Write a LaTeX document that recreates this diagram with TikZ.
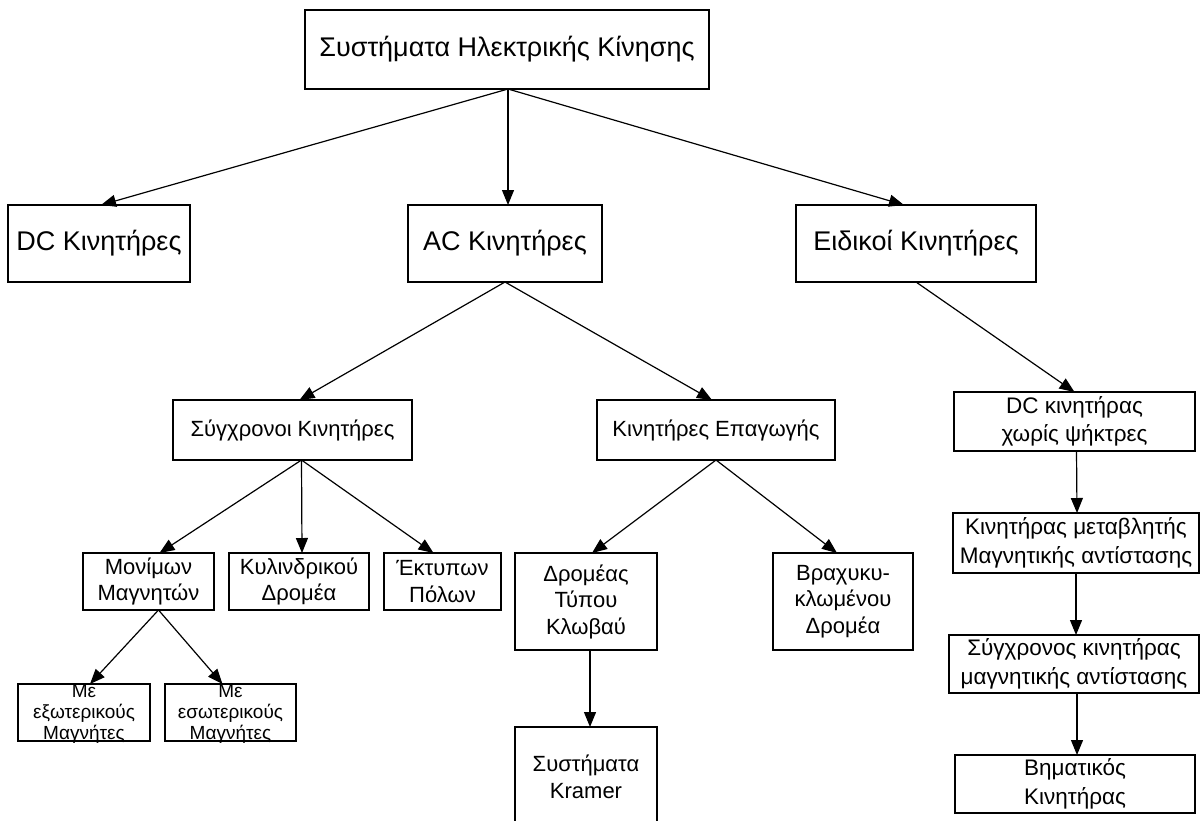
\documentclass[tikz,border=0pt]{standalone}
\usepackage{fontspec}
\setmainfont{Liberation Sans}
\usetikzlibrary{arrows.meta}
\begin{document}
\begin{tikzpicture}[x=1pt,y=-1pt,
  box/.style={draw, line width=1.4pt, inner sep=0pt, outer sep=0pt, align=center},
  big/.style={font=\fontsize{27}{32}\selectfont},
  row/.style={font=\fontsize{22}{26}\selectfont},
  mid/.style={font=\fontsize{22}{26.5}\selectfont},
  side/.style={font=\fontsize{22.5}{28.5}\selectfont},
  small/.style={font=\fontsize{19}{21}\selectfont},
  txt/.style={inner sep=0pt, align=center},
  arr/.style={line width=1.2pt, -{Triangle[length=15pt,width=12pt]}}]
\useasboundingbox (0,0) rectangle (1201,820);
\fill[white] (0,0) rectangle (1201,820);

% top level
\node[box,big,minimum width=404pt,minimum height=79pt] (top) at (507,49.5) {Συστήματα Ηλεκτρικής Κίνησης};

% motor families
\node[box,big,minimum width=182pt,minimum height=77pt] (dc) at (99,243.5) {DC Κινητήρες};
\node[box,big,minimum width=194pt,minimum height=77pt] (ac) at (505,243.5) {AC Κινητήρες};
\node[box,big,minimum width=240pt,minimum height=77pt] (ei) at (916,243.5) {Ειδικοί Κινητήρες};

% AC motors
\node[box,row,minimum width=239pt,minimum height=60pt] (syn) at (292.5,430) {Σύγχρονοι Κινητήρες};
\node[box,row,minimum width=238pt,minimum height=60pt] (epa) at (716,430) {Κινητήρες Επαγωγής};

% synchronous motors
\node[box,mid,minimum width=131pt,minimum height=57pt] (mon) at (148.5,581.5) {Μονίμων\\Μαγνητών};
\node[box,mid,minimum width=140pt,minimum height=57pt] (kyl) at (299,581.5) {Κυλινδρικού\\Δρομέα};
\node[box,mid,minimum width=117pt,minimum height=57pt] (ekt) at (442.5,581.5) {Έκτυπων\\Πόλων};

% induction motors
\node[box,mid,minimum width=142pt,minimum height=97pt] (dro) at (586,601.5) {Δρομέας\\Τύπου\\Κλωβαύ};
\node[box,mid,minimum width=140pt,minimum height=97pt] (bra) at (843,601.5) {Βραχυκυ-\\κλωμένου\\Δρομέα};
\node[box,minimum width=142pt,minimum height=110pt] (kra) at (586,782) {};
\node[txt,mid] (kratxt) at (586,777) {Συστήματα\\Kramer};

% permanent magnet variants
\node[box,minimum width=132pt,minimum height=57pt] (ext) at (84,712.5) {};
\node[txt,small] (exttxt) at (84,714) {Με\\εξωτερικούς\\Μαγνήτες};
\node[box,minimum width=131pt,minimum height=57pt] (int) at (230.5,712.5) {};
\node[txt,small] (inttxt) at (230.5,714) {Με\\εσωτερικούς\\Μαγνήτες};

% special motors
\node[box,side,minimum width=241pt,minimum height=59pt] (r1) at (1074.5,421.5) {DC κινητήρας\\χωρίς ψήκτρες};
\node[box,side,minimum width=246pt,minimum height=60pt] (r2) at (1076,543) {Κινητήρας μεταβλητής\\Μαγνητικής αντίστασης};
\node[box,side,minimum width=250pt,minimum height=58pt] (r3) at (1074,664) {Σύγχρονος κινητήρας\\μαγνητικής αντίστασης};
\node[box,side,minimum width=240pt,minimum height=58pt] (r4) at (1075,784) {Βηματικός\\Κινητήρας};

% connectors
\draw[arr] ([xshift=1pt]top.south) -- ([xshift=2pt]dc.north);
\draw[arr] ([xshift=1pt]top.south) -- ([xshift=3pt]ac.north);
\draw[arr] ([xshift=1pt]top.south) -- ([xshift=-12pt]ei.north);

\draw[arr] (ac.south) -- ([xshift=7pt]syn.north);
\draw[arr] (ac.south) -- ([xshift=-4pt]epa.north);
\draw[arr] (ei.south) -- (r1.north);

\draw[arr] ([xshift=9pt]syn.south) -- ([xshift=11pt]mon.north);
\draw[arr] ([xshift=9pt]syn.south) -- ([xshift=3pt]kyl.north);
\draw[arr] ([xshift=9pt]syn.south) -- ([xshift=-9pt]ekt.north);

\draw[arr] (epa.south) -- ([xshift=6pt]dro.north);
\draw[arr] (epa.south) -- ([xshift=-6pt]bra.north);
\draw[arr] ([xshift=4pt]dro.south) -- ([xshift=4pt]kra.north);

\draw[arr] ([xshift=10pt]mon.south) -- ([xshift=6pt]ext.north);
\draw[arr] ([xshift=10pt]mon.south) -- ([xshift=-8pt]int.north);

\draw[arr] ([xshift=2pt]r1.south) -- ([xshift=1pt]r2.north);
\draw[arr] (r2.south) -- ([xshift=2pt]r3.north);
\draw[arr] ([xshift=3pt]r3.south) -- ([xshift=2pt]r4.north);
\end{tikzpicture}
\end{document}
